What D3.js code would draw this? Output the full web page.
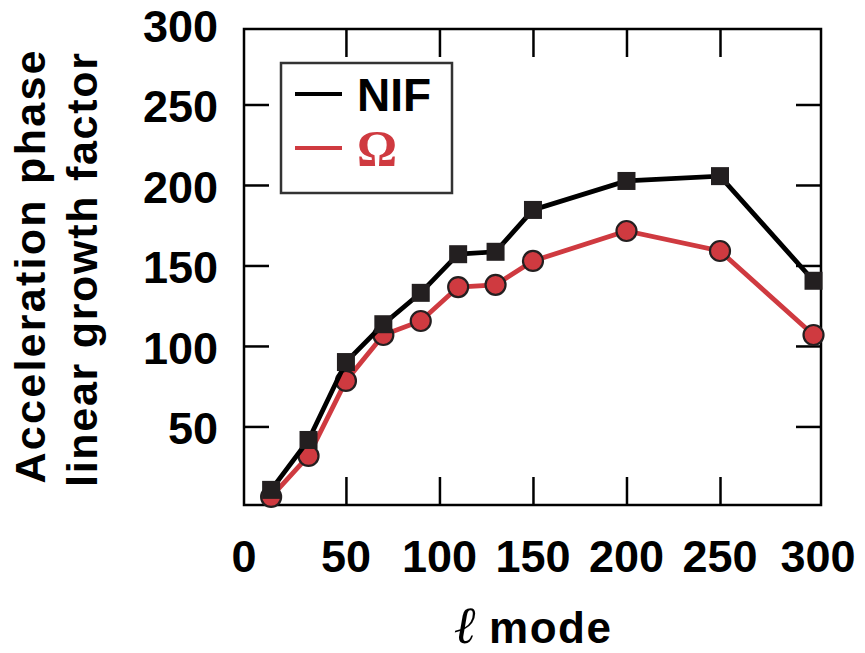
<!DOCTYPE html>
<html>
<head>
<meta charset="utf-8">
<script src="https://cdn.jsdelivr.net/npm/d3@7"></script>
<style>
body { margin: 0; background: #fff; }
text { font-family: "Liberation Sans", Arial, sans-serif; font-weight: bold; fill: #000; }
.tick line { stroke: #000; stroke-width: 2.5; }
</style>
</head>
<body>
<div id="chart"></div>
<script>
// l mode values (x) and growth factors for both facilities
let modes = [10, 30, 50, 70, 90, 110, 130, 150, 200, 250, 300];
let nifGrowth = [10.6, 41.6, 90, 113.5, 133, 157, 158.5, 184.5, 202.5, 205.5, 140.5];
let omegaGrowth = [6.2, 31.7, 78.3, 106.8, 115.5, 136.6, 138, 152.8, 171.4, 159, 106.8];
let xTickLabels = [0, 50, 100, 150, 200, 250, 300];
let yTickLabels = [50, 100, 150, 200, 250, 300];
let innerTicksX = [50, 100, 150, 200, 250];
let innerTicksY = [50, 100, 150, 200, 250];
let seriesNames = ['NIF', 'Ω'];

let width = 865, height = 653;
let red = '#cf3a40';
let dark = '#231f20';

let x = d3.scaleLinear()
    .domain([-4.5, 304])
    .range([244, 821]);

let y = d3.scaleLinear()
    .domain([1.2, 296.9])
    .range([505, 29]);

let svg = d3.select('#chart')
    .append('svg')
    .attr('width', width)
    .attr('height', height)
;

// inward ticks on all four sides
svg.append('g')
    .attr('transform', 'translate(0,' + y.range()[0] + ')')
    .call(d3.axisBottom(x).tickValues(innerTicksX).tickSize(-28).tickFormat(''))
    .call(g => g.select('.domain').remove());

svg.append('g')
    .attr('transform', 'translate(0,' + y.range()[1] + ')')
    .call(d3.axisTop(x).tickValues(innerTicksX).tickSize(-28).tickFormat(''))
    .call(g => g.select('.domain').remove());

svg.append('g')
    .attr('transform', 'translate(' + x.range()[0] + ',0)')
    .call(d3.axisLeft(y).tickValues(innerTicksY).tickSize(-25).tickFormat(''))
    .call(g => g.select('.domain').remove());

svg.append('g')
    .attr('transform', 'translate(' + x.range()[1] + ',0)')
    .call(d3.axisRight(y).tickValues(innerTicksY).tickSize(-25).tickFormat(''))
    .call(g => g.select('.domain').remove());

// frame
svg.append('rect')
    .attr('x', x.range()[0])
    .attr('y', y.range()[1])
    .attr('width', x.range()[1] - x.range()[0])
    .attr('height', y.range()[0] - y.range()[1])
    .attr('fill', 'none')
    .attr('stroke', '#000')
    .attr('stroke-width', 2.5);

// tick labels
svg.selectAll('.xlab')
    .data(xTickLabels)
    .enter()
    .append('text')
    .attr('class', 'xlab')
    .attr('x', function(d) {
        // end labels sit on the frame edges
        if (d === 0) return x.range()[0];
        if (d === 300) return x.range()[1] - 3;
        return x(d);
    })
    .attr('y', 572)
    .attr('text-anchor', 'middle')
    .style('font-size', '45px')
    .text(d => d);

svg.selectAll('.ylab')
    .data(yTickLabels)
    .enter()
    .append('text')
    .attr('class', 'ylab')
    .attr('x', 218)
    .attr('y', d => y(d) + 18)
    .attr('text-anchor', 'end')
    .style('font-size', '45px')
    .text(d => d);

// axis titles
let yTitle = svg.append('g')
    .attr('transform', 'translate(0,267)');

yTitle.append('text')
    .attr('transform', 'translate(45,0) rotate(-90)')
    .attr('text-anchor', 'middle')
    .attr('textLength', 433)
    .style('font-size', '43px')
    .text('Acceleration phase');

yTitle.append('text')
    .attr('transform', 'translate(97,3) rotate(-90)')
    .attr('text-anchor', 'middle')
    .attr('textLength', 434)
    .style('font-size', '43px')
    .text('linear growth factor');

let xTitle = svg.append('text')
    .attr('x', 533)
    .attr('y', 643)
    .attr('text-anchor', 'middle')
    .style('font-size', '44px');

xTitle.append('tspan')
    .style('font-family', '"Liberation Serif", serif')
    .style('font-style', 'italic')
    .style('font-weight', 'normal')
    .style('font-size', '52px')
    .text('ℓ');

xTitle.append('tspan')
    .style('letter-spacing', '1.5px')
    .text(' mode');

// series
let line = d3.line()
    .x(d => x(d[0]))
    .y(d => y(d[1]));

let omegaData = modes.map((m, i) => [m, omegaGrowth[i]]);
let nifData = modes.map((m, i) => [m, nifGrowth[i]]);

let plot = svg.append('g').attr('class', 'drawing-area');

plot.append('path')
    .datum(omegaData)
    .attr('d', line)
    .attr('fill', 'none')
    .attr('stroke', red)
    .attr('stroke-width', 4.8);

plot.selectAll('.omega')
    .data(omegaData)
    .enter()
    .append('circle')
    .attr('class', 'omega')
    .attr('cx', d => x(d[0]))
    .attr('cy', d => y(d[1]))
    .attr('r', 10)
    .attr('fill', red)
    .attr('stroke', dark)
    .attr('stroke-width', 2.2);

plot.append('path')
    .datum(nifData)
    .attr('d', line)
    .attr('fill', 'none')
    .attr('stroke', '#000')
    .attr('stroke-width', 4.8);

plot.selectAll('.nif')
    .data(nifData)
    .enter()
    .append('rect')
    .attr('class', 'nif')
    .attr('x', d => x(d[0]) - 9)
    .attr('y', d => y(d[1]) - 9)
    .attr('width', 18)
    .attr('height', 18)
    .attr('fill', dark);

// legend
let legend = svg.append('g').attr('class', 'legend');

legend.append('rect')
    .attr('x', 281)
    .attr('y', 63)
    .attr('width', 171)
    .attr('height', 130)
    .attr('fill', '#fff')
    .attr('stroke', '#333')
    .attr('stroke-width', 2.5);

let legendColors = ['#000', red];
seriesNames.forEach(function(name, i) {
    let ly = 94 + i * 54;
    legend.append('line')
        .attr('x1', 295)
        .attr('x2', 342)
        .attr('y1', ly)
        .attr('y2', ly)
        .attr('stroke', legendColors[i])
        .attr('stroke-width', 4);

    let t = legend.append('text')
        .attr('x', 357)
        .attr('y', ly + 17)
        .style('fill', legendColors[i])
        .text(name);
    if (i === 0) {
        t.style('font-size', '46px');
    } else {
        t.style('font-family', '"Liberation Serif", serif')
            .style('font-size', '50px');
    }
});
</script>
</body>
</html>
